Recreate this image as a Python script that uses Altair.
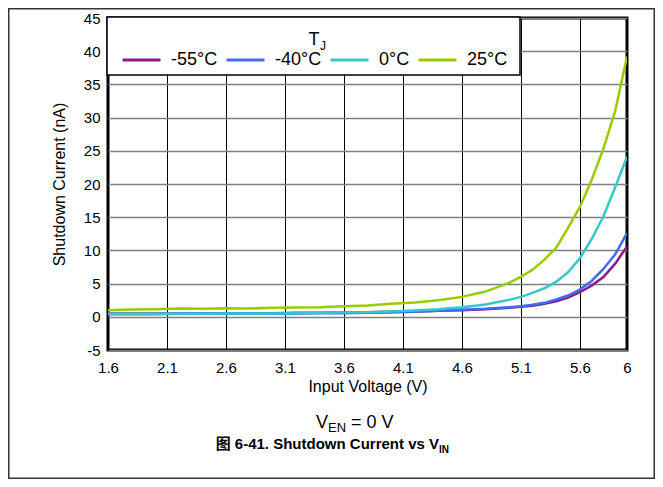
import altair as alt
import pandas as pd

volts = [1.6, 1.8, 2.0, 2.2, 2.4, 2.6, 2.8, 3.0, 3.2, 3.4, 3.6, 3.8, 4.0, 4.2,
         4.4, 4.6, 4.8, 5.0, 5.1, 5.2, 5.3, 5.4, 5.5, 5.6, 5.7, 5.8, 5.9, 6.0]
i_m55 = [0.5, 0.5, 0.5, 0.5, 0.5, 0.5, 0.55, 0.55, 0.6, 0.6, 0.65, 0.7, 0.75, 0.8,
         0.9, 1.0, 1.15, 1.35, 1.5, 1.65, 1.95, 2.35, 2.9, 3.7, 4.7, 6.0, 8.0, 10.6]
i_m40 = [0.4, 0.4, 0.4, 0.45, 0.45, 0.45, 0.5, 0.5, 0.5, 0.55, 0.55, 0.6, 0.65, 0.75,
         0.9, 1.05, 1.2, 1.45, 1.6, 1.8, 2.1, 2.6, 3.2, 4.1, 5.4, 7.2, 9.4, 12.6]
i_0 = [0.45, 0.45, 0.45, 0.45, 0.45, 0.5, 0.5, 0.5, 0.55, 0.6, 0.65, 0.7, 0.8, 0.95,
       1.15, 1.45, 1.85, 2.55, 3.0, 3.6, 4.3, 5.3, 6.7, 8.8, 11.7, 15.1, 19.5, 24.1]
i_25 = [1.0, 1.1, 1.15, 1.25, 1.2, 1.3, 1.25, 1.35, 1.4, 1.45, 1.6, 1.7, 1.95, 2.15,
        2.5, 3.0, 3.8, 5.1, 6.0, 7.1, 8.6, 10.4, 13.4, 16.5, 20.6, 25.3, 31.0, 39.2]

series = ["-55°C", "-40°C", "0°C", "25°C"]
colors = ["#8b1a8b", "#3d6cf2", "#35c8c8", "#99cc00"]
x_ticks = [1.6, 2.1, 2.6, 3.1, 3.6, 4.1, 4.6, 5.1, 5.6, 6.0]
y_ticks = [-5, 0, 5, 10, 15, 20, 25, 30, 35, 40, 45]

rows = []
for name, vals in zip(series, [i_m55, i_m40, i_0, i_25]):
    for v, i in zip(volts, vals):
        rows.append({"V": v, "I": i, "T": name})
df = pd.DataFrame(rows)

W, H = 519, 332
FONT = "Liberation Sans"

lines = alt.Chart(df).mark_line(strokeWidth=2.5, clip=True).encode(
    x=alt.X("V:Q", scale=alt.Scale(domain=[1.6, 6.0], nice=False, zero=False),
            axis=alt.Axis(values=x_ticks, format=".1~f", title="Input Voltage (V)",
                          labelPadding=10, titlePadding=3, labelFlush=False)),
    y=alt.Y("I:Q", scale=alt.Scale(domain=[-5, 45], nice=False, zero=False),
            axis=alt.Axis(values=y_ticks, labelExpr="'' + datum.value",
                          title="Shutdown Current (nA)",
                          labelPadding=8, titlePadding=16, labelFlush=False,
                          gridColor="#7f7f7f", gridWidth=1.5)),
    color=alt.Color("T:N", scale=alt.Scale(domain=series, range=colors),
                    legend=alt.Legend(title="T", orient="none", legendX=0, legendY=0,
                                      direction="horizontal", titleAnchor="middle",
                                      titleFontSize=18, titleFontWeight="normal",
                                      titleFont=FONT, labelFont=FONT, labelFontSize=18,
                                      labelColor="black", titleColor="black",
                                      symbolType="M-1,0H3", symbolSize=361,
                                      symbolStrokeWidth=3, labelOffset=28,
                                      columnPadding=2, padding=13, titlePadding=0)),
)

blank = alt.Data(values=[{}])

def txt(s, x, y, size, weight="normal", align="left", font=FONT):
    return alt.Chart(blank).mark_text(text=s, fontSize=size, fontWeight=weight, align=align,
                                      baseline="alphabetic", font=font, color="black").encode(
        x=alt.value(x), y=alt.value(y))

frame = alt.Chart(blank).mark_rect(fillOpacity=0, stroke="#333", strokeWidth=1.5).encode(
    x=alt.value(-99.25), x2=alt.value(W + 27.25), y=alt.value(-9.25), y2=alt.value(H + 128.25))

legend_box = alt.Chart(blank).mark_rect(fill="white", stroke="black", strokeWidth=1.5).encode(
    x=alt.value(-1), x2=alt.value(412), y=alt.value(-1), y2=alt.value(57))

sub_j = txt("J", 212, 32, 12)
ven_v = txt("V", 220, 410, 18, align="right")
ven_en = txt("EN", 220, 414, 13)
ven_rest = txt("= 0 V", 243, 410, 18)
cap = txt("图 6-41. Shutdown Current vs V", 331, 431, 15, weight="bold", align="right",
          font="Liberation Sans, Noto Sans CJK SC")
cap_in = txt("IN", 331, 435, 10, weight="bold")

chart = alt.layer(frame, legend_box, lines, sub_j, ven_v, ven_en, ven_rest, cap, cap_in).properties(
    width=W, height=H,
    padding={"left": 100, "top": 10, "right": 28, "bottom": 129},
    autosize=alt.AutoSizeParams(type="none"),
).configure_view(stroke="black", strokeWidth=3).configure_axis(
    labelFont=FONT, labelFontSize=15, labelColor="black", titleFont=FONT,
    titleFontSize=16, titleFontWeight="normal", titleColor="black",
    ticks=False, domain=False, gridColor="black", gridWidth=1, gridOpacity=1,
)

chart.save("out.html", embed_options={"renderer": "svg", "actions": False})
